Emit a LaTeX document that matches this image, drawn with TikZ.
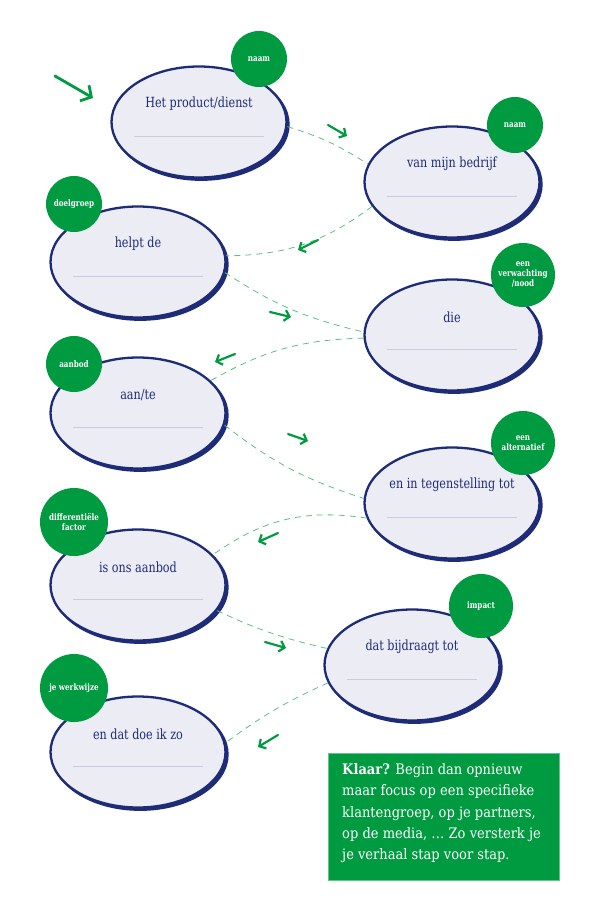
\documentclass[tikz,border=0pt]{standalone}
\usepackage{fontspec}
\setmainfont{DejaVu Serif}[FakeStretch=0.8]
\newfontfamily\boxfont{DejaVu Serif}[FakeStretch=0.9]
\usetikzlibrary{shapes.geometric,arrows.meta,calc}
\definecolor{navy}{HTML}{1E2C78}
\definecolor{lav}{HTML}{ECECF5}
\definecolor{lavline}{HTML}{C9CBE3}
\definecolor{grn}{HTML}{009A40}
\definecolor{dashgrn}{HTML}{5DBF85}
\tikzset{
  bubble/.style={ellipse,draw=navy,fill=lav,line width=2.3pt,minimum width=175pt,minimum height=111pt,inner sep=0pt},
  bshadow/.style={ellipse,fill=navy,minimum width=177pt,minimum height=113pt,inner sep=0pt},
  btext/.style={text=navy,font=\fontsize{14}{16}\selectfont,inner sep=0pt},
  tag/.style={circle,fill=grn,text=white,inner sep=0pt,align=center,font=\fontsize{9}{10}\selectfont\bfseries},
  flow/.style={draw=dashgrn,line width=0.8pt,dash pattern=on 6pt off 5pt},
  glyph/.style={draw=grn,line width=2.2pt,line cap=round,-{Straight Barb[length=5pt,width=11pt,line width=2.2pt]}},
}
\newcommand{\bub}[4]{% name, x, y, text
  \node[bshadow] (#1s) at (#2+2.2,#3+2.4) {};
  \node[bubble] (#1) at (#2,#3) {};
  \node[btext] (#1t) at (#2,#3-18) {#4};
  \draw[lavline,line width=0.6pt] ($(#1)+(-65,14)$) coordinate (#1l) -- ($(#1)+(65,14)$) coordinate (#1r);
}
\begin{document}
\begin{tikzpicture}[x=1pt,y=-1pt]
\useasboundingbox (0,0) rectangle (595,912);
\fill[white] (0,0) rectangle (595,912);

\bub{e1}{199}{122}{Het product/dienst}
\bub{e2}{452}{182}{van mijn bedrijf}
\bub{e3}{138}{262}{helpt de}
\bub{e4}{452}{335}{die}
\bub{e5}{138}{413}{aan/te}
\bub{e6}{452}{503}{en in tegenstelling tot}
\bub{e7}{138}{585}{is ons aanbod}
\bub{e8}{412}{665}{dat bijdraagt tot}
\bub{e9}{138}{752}{en dat doe ik zo}

\node[tag,minimum size=56pt] (c1) at (259,59) {naam};
\node[tag,minimum size=56pt] (c2) at (515,125) {naam};
\node[tag,minimum size=56pt] (c3) at (74,204) {doelgroep};
\node[tag,minimum size=64pt] (c4) at (523,275) {een\\verwachting\\/nood};
\node[tag,minimum size=56pt] (c5) at (74,364) {aanbod};
\node[tag,minimum size=64pt] (c6) at (523,443) {een\\alternatief};
\node[tag,minimum size=68pt] (c7) at (74,522) {differentiële\\factor};
\node[tag,minimum size=64pt] (c8) at (481,606) {impact};
\node[tag,minimum size=68pt] (c9) at (74,688) {je werkwijze};

\draw[flow] (e1.-3) to[bend left=8] (e2.168);
\draw[flow] (e2.197) to[bend left=18] (e3.4);
\draw[flow] (e3.-7) to[bend right=10] (e4.178);
\draw[flow] (e4.182) to[bend right=14] (e5.24);
\draw[flow] (e5.-8) to[bend right=10] (e6.177);
\draw[flow] (e6.190) to[bend right=22] (e7.22);
\draw[flow] (e7.-18) to[bend right=6] (e8.169);
\draw[flow] (e8.192) to[bend right=6] (e9.6);

\coordinate (s0) at (55,76); \coordinate (s1) at (93,98);
\draw[glyph,-{Straight Barb[length=8pt,width=18pt,line width=2.8pt]},line width=2.8pt] (s0) -- (s1);
\coordinate (a1s) at (328,125); \coordinate (a1e) at (347,136);
\draw[glyph] (a1s) -- (a1e);
\coordinate (a2s) at (318,240); \coordinate (a2e) at (298,250);
\draw[glyph] (a2s) -- (a2e);
\coordinate (a3s) at (270,312); \coordinate (a3e) at (291,317);
\draw[glyph] (a3s) -- (a3e);
\coordinate (a4s) at (235,354); \coordinate (a4e) at (215,362);
\draw[glyph] (a4s) -- (a4e);
\coordinate (a5s) at (288,434); \coordinate (a5e) at (308,441);
\draw[glyph] (a5s) -- (a5e);
\coordinate (a6s) at (278,533); \coordinate (a6e) at (258,542);
\draw[glyph] (a6s) -- (a6e);
\coordinate (a7s) at (265,642); \coordinate (a7e) at (286,648);
\draw[glyph] (a7s) -- (a7e);
\coordinate (a8s) at (278,735); \coordinate (a8e) at (258,747);
\draw[glyph] (a8s) -- (a8e);

\node[fill=grn,draw=grn!60,line width=0.5pt,minimum width=231pt,minimum height=127pt,anchor=north west,inner sep=0pt] (box) at (328,753) {};
\node[anchor=north west,text=white,align=left,inner sep=0pt,font=\boxfont\fontsize{14.5}{21.4}\selectfont] (boxt) at (342,763)
 {\textbf{Klaar?} Begin dan opnieuw\\maar focus op een specifieke\\klantengroep, op je partners,\\op de media, \dots\ Zo versterk je\\je verhaal stap voor stap.};
\end{tikzpicture}
\end{document}
